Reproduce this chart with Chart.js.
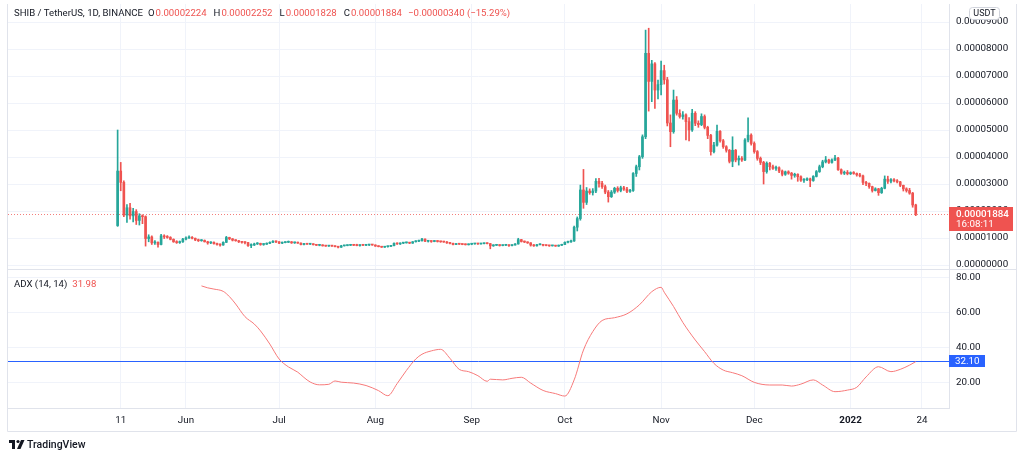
<!DOCTYPE html>
<html>
<head>
<meta charset="utf-8">
<script src="https://cdn.jsdelivr.net/npm/chart.js@4.4.1/dist/chart.umd.min.js"></script>
<style>
  html, body { margin: 0; padding: 0; background: #fff; }
  #wrap { position: relative; width: 1024px; height: 459px; }
  canvas { display: block; }
</style>
</head>
<body>
<div id="wrap"><canvas id="chart" width="1024" height="459"></canvas></div>
<script>
// SHIB/USDT daily candles, 10 May 2021 (day 0) .. 22 Jan 2022 (day 257)
// prices in millionths of a USDT (18.84 -> 0.00001884)
const firstOpen = 14.6;

const closes = [
  // May
  34.8, 30.6, 18.5, 21.2, 18.2, 19.8, 16.5, 18.2, 17.9, 9.8, 10.4, 8.2, 8.4, 7.6, 10.8, 10.4, 10.2, 9.5, 8.6, 8.3, 8.6, 9.6,
  // Jun
  10.0, 10.2, 9.9, 9.3, 9.0, 9.1, 8.6, 8.2, 8.4, 7.9, 7.6, 7.4, 8.4, 10.2, 9.7, 9.2, 9.0, 8.6, 8.4, 8.3, 7.2, 7.4, 7.8, 8.0, 7.6, 7.7, 8.0, 8.4, 8.7, 8.6,
  // Jul
  8.1, 8.3, 8.4, 8.6, 8.2, 8.3, 8.1, 7.6, 7.9, 7.7, 7.8, 7.5, 7.3, 7.4, 7.1, 7.0, 7.1, 7.0, 6.8, 6.6, 7.1, 7.2, 7.3, 7.4, 7.3, 7.2, 7.4, 7.3, 7.4, 7.5, 7.4,
  // Aug
  7.0, 6.8, 6.6, 6.8, 6.9, 7.2, 8.0, 7.8, 8.1, 8.2, 8.3, 8.1, 8.6, 8.8, 9.0, 9.6, 8.8, 8.9, 8.7, 8.9, 8.7, 8.6, 8.5, 8.2, 8.0, 7.6, 7.8, 7.7, 7.6, 7.5, 7.7,
  // Sep
  7.8, 7.9, 7.8, 7.9, 8.0, 7.9, 7.1, 7.3, 7.4, 7.2, 7.3, 7.4, 7.2, 7.4, 7.8, 9.4, 8.7, 8.5, 8.2, 7.4, 7.1, 7.5, 7.6, 7.3, 7.2, 7.1, 7.2, 7.0, 7.3, 7.6,
  // Oct
  8.4, 8.6, 8.9, 14.0, 17.2, 27.8, 23.2, 27.4, 26.8, 27.4, 31.0, 30.2, 29.0, 27.0, 25.3, 27.0, 28.4, 27.6, 28.6, 28.1, 27.3, 27.6, 33.9, 36.4, 40.1, 47.5, 78.4, 68.0, 74.5, 64.8, 66.8,
  // Nov
  72.0, 68.6, 52.6, 49.4, 61.1, 56.2, 55.0, 55.6, 53.1, 50.0, 56.2, 52.5, 52.0, 55.0, 51.0, 48.0, 42.0, 44.4, 49.5, 46.0, 43.8, 42.5, 38.4, 42.5, 38.9, 39.5, 38.9, 46.3, 48.1, 45.0,
  // Dec
  42.0, 39.5, 38.0, 34.6, 37.7, 36.4, 35.8, 36.0, 34.8, 33.6, 34.5, 34.0, 33.2, 33.6, 32.7, 31.4, 31.6, 31.9, 31.3, 32.8, 34.6, 36.4, 38.2, 38.9, 38.0, 38.9, 39.6, 35.3, 34.0, 34.3, 33.8,
  // Jan
  34.2, 33.9, 33.4, 33.0, 30.6, 30.2, 29.0, 27.6, 28.2, 26.8, 28.4, 31.8, 31.0, 31.6, 31.2, 30.8, 29.5, 28.2, 27.6, 26.6, 22.24, 18.84
];

const highs = [
  50.0, 38.0, 31.2, 22.4, 22.8, 21.0, 20.5, 19.0, 18.6, 18.2, 11.2, 10.8, 9.0, 8.6, 11.4, 11.2, 10.9, 10.5, 9.7, 9.0, 8.9, 9.9,
  10.4, 10.8, 10.5, 10.0, 9.6, 9.4, 9.3, 8.8, 8.6, 8.6, 8.1, 7.8, 8.6, 10.6, 10.3, 9.8, 9.4, 9.1, 8.8, 8.6, 8.4, 7.8, 8.1, 8.3, 8.1, 7.9, 8.2, 8.6, 9.0, 8.9,
  8.7, 8.5, 8.6, 8.9, 8.7, 8.5, 8.5, 8.2, 8.0, 8.0, 7.9, 7.9, 7.6, 7.5, 7.5, 7.3, 7.2, 7.3, 7.1, 6.9, 7.3, 7.3, 7.4, 7.5, 7.5, 7.7, 7.5, 7.5, 7.5, 7.6, 7.6,
  7.5, 7.1, 6.9, 6.9, 7.0, 7.3, 8.2, 8.2, 8.2, 8.4, 8.5, 8.4, 8.7, 9.0, 9.2, 9.9, 9.7, 9.1, 9.0, 9.1, 9.0, 8.8, 8.8, 8.7, 8.3, 8.1, 7.9, 7.9, 7.8, 7.8, 7.8,
  7.9, 8.0, 8.0, 8.0, 8.1, 8.2, 8.0, 7.5, 7.6, 7.5, 7.4, 7.5, 7.4, 7.5, 7.9, 9.9, 9.5, 8.9, 8.6, 8.3, 7.6, 7.7, 7.8, 7.7, 7.4, 7.3, 7.3, 7.3, 7.4, 7.7,
  8.6, 8.9, 9.2, 14.4, 17.8, 29.6, 35.4, 28.7, 28.2, 28.3, 32.0, 32.1, 31.0, 29.6, 27.6, 27.6, 28.8, 29.0, 29.2, 29.1, 28.8, 28.0, 34.2, 37.0, 40.6, 48.2, 87.0, 87.7, 75.8, 75.0, 68.5,
  75.5, 74.0, 69.5, 55.6, 64.8, 62.4, 57.5, 56.8, 56.0, 54.6, 57.7, 56.8, 53.4, 56.0, 55.6, 51.4, 48.4, 45.4, 51.8, 49.8, 46.5, 44.2, 42.8, 47.5, 42.8, 40.4, 40.2, 46.8, 54.5, 48.6,
  45.6, 42.4, 40.0, 38.4, 38.2, 38.0, 37.0, 36.6, 36.4, 35.2, 34.8, 34.9, 34.3, 34.0, 33.8, 33.0, 32.0, 32.3, 32.2, 33.1, 35.0, 37.0, 38.8, 40.2, 39.2, 39.3, 40.6, 39.9, 35.6, 34.8, 35.0,
  34.5, 34.6, 34.1, 34.0, 33.3, 31.0, 30.4, 29.2, 28.6, 28.4, 28.8, 33.0, 32.9, 32.0, 32.0, 31.6, 31.0, 29.6, 28.6, 28.4, 26.9, 22.52
];

const lows = [
  14.3, 27.5, 17.9, 15.8, 17.0, 16.0, 15.0, 14.8, 15.3, 7.0, 8.6, 7.6, 7.6, 6.6, 7.4, 9.8, 9.9, 9.3, 8.4, 8.0, 8.0, 8.4,
  9.3, 9.8, 9.7, 9.0, 8.7, 8.8, 8.5, 7.7, 7.9, 7.7, 7.3, 7.0, 7.3, 8.3, 9.4, 8.9, 8.8, 8.3, 8.1, 7.8, 6.9, 6.4, 7.2, 7.6, 7.3, 7.3, 7.6, 7.9, 8.3, 8.3,
  7.9, 7.9, 8.2, 8.3, 8.0, 8.0, 8.0, 7.4, 7.4, 7.6, 7.6, 7.4, 7.2, 7.1, 7.0, 6.9, 6.9, 6.9, 6.7, 6.3, 6.5, 7.0, 7.1, 7.2, 7.2, 7.1, 7.0, 7.2, 7.2, 7.2, 7.3,
  6.9, 6.7, 6.5, 6.5, 6.6, 6.8, 7.1, 7.6, 7.6, 7.9, 8.1, 7.9, 8.0, 8.5, 8.6, 8.8, 8.6, 8.5, 8.4, 8.6, 8.5, 8.4, 8.4, 8.0, 7.8, 7.4, 7.5, 7.6, 7.5, 7.4, 7.4,
  7.5, 7.7, 7.6, 7.7, 7.8, 7.8, 6.0, 6.9, 7.2, 7.0, 7.1, 7.2, 6.9, 7.1, 7.3, 7.7, 8.5, 8.3, 8.0, 7.0, 6.9, 7.0, 7.4, 7.1, 7.1, 6.9, 7.0, 6.9, 6.9, 7.2,
  7.5, 8.2, 8.4, 8.7, 12.6, 16.6, 21.0, 22.4, 26.2, 25.9, 26.8, 28.8, 28.4, 26.4, 23.3, 25.0, 26.5, 27.0, 27.1, 27.6, 26.8, 26.9, 27.3, 32.8, 35.2, 39.5, 46.8, 57.0, 60.5, 58.0, 61.5,
  63.0, 67.0, 51.5, 43.8, 48.8, 55.5, 54.4, 54.0, 46.3, 46.0, 49.5, 51.6, 51.0, 51.6, 50.4, 46.8, 40.7, 41.5, 44.0, 45.5, 43.2, 41.8, 37.8, 36.4, 38.2, 37.0, 38.4, 38.6, 45.6, 44.4,
  41.4, 38.8, 37.2, 30.0, 34.0, 35.2, 35.4, 35.0, 34.2, 33.0, 33.2, 33.6, 31.8, 32.5, 31.0, 31.0, 30.6, 31.2, 29.0, 31.0, 32.6, 34.3, 36.0, 37.8, 37.6, 37.7, 38.6, 35.0, 33.6, 33.5, 33.4,
  33.5, 33.6, 32.9, 32.6, 29.8, 29.4, 28.4, 27.0, 27.4, 25.8, 26.5, 28.2, 30.2, 30.4, 30.8, 30.4, 29.0, 27.4, 27.0, 26.2, 21.4, 18.28
];

// ADX (14, 14): day index and value
const adxDays = [27, 29, 31, 34, 36, 38, 41, 44, 46, 49, 52, 55, 58, 60, 62, 65, 68, 70, 72, 76, 80, 84, 87, 90, 93, 96, 98, 101, 104, 107, 110, 113, 116, 119, 120, 124, 127, 130, 133, 137, 141, 144, 147, 150, 153, 156, 160, 164, 168, 172, 175, 176, 179, 182, 186, 189, 192, 195, 198, 201, 205, 210, 214, 217, 220, 224, 227, 231, 235, 238, 241, 245, 249, 252, 255, 257];
const adxValues = [75.1, 74.0, 73.3, 72.0, 69.0, 64.8, 57.6, 53.4, 49.5, 42.0, 33.5, 29.0, 26.0, 23.0, 20.4, 18.8, 19.1, 21.0, 20.3, 19.8, 18.4, 15.5, 12.6, 19.5, 27.0, 33.5, 36.2, 38.1, 39.0, 33.9, 27.6, 26.3, 24.0, 20.8, 22.0, 21.6, 22.5, 23.1, 19.8, 15.6, 13.8, 12.4, 21.6, 38.6, 49.1, 55.4, 57.0, 59.2, 64.3, 71.8, 74.3, 71.5, 63.4, 54.3, 44.3, 37.7, 31.0, 27.2, 25.7, 24.0, 20.2, 18.7, 18.7, 18.1, 19.2, 21.6, 18.7, 14.9, 15.8, 17.4, 23.3, 29.1, 26.3, 27.6, 30.0, 31.98];
const adxLevel = 32.10;

// time axis
const tickDays = [1, 22, 52, 83, 114, 144, 175, 205, 236, 259];
const tickLabels = ['11', 'Jun', 'Jul', 'Aug', 'Sep', 'Oct', 'Nov', 'Dec', '2022', '24'];
const priceTicks = [0, 10, 20, 30, 40, 50, 60, 70, 80, 90];
const adxTicks = [20, 40, 60, 80];

const UP = '#26a69a';
const DOWN = '#ef5350';
const TEXT = '#131722';
const GRID = '#f0f3fa';
const LINE = '#e0e3eb';
const FONT = 'Roboto, "Liberation Sans", sans-serif';

const opens = closes.map((c, i) => (i === 0 ? firstOpen : closes[i - 1]));
const candleColors = closes.map((c, i) => (c >= opens[i] ? UP : DOWN));
const fmtPrice = v => (v / 1e6).toFixed(8);

const last = closes.length - 1;
const lastOpen = opens[last], lastClose = closes[last];
const change = lastClose - lastOpen;
const changeText = (change < 0 ? '\u2212' : '+') + fmtPrice(Math.abs(change)) +
  ' (' + (change < 0 ? '\u2212' : '+') + Math.abs(change / lastOpen * 100).toFixed(2) + '%)';

// overlays drawn by hand: legend lines, price tags, pane separator, frame, logo
const overlay = {
  id: 'overlay',
  beforeDatasetsDraw(chart) {
    const { ctx, chartArea: a, scales } = chart;
    ctx.save();
    // last price dotted line
    const py = Math.round(scales.y.getPixelForValue(lastClose)) + 0.5;
    ctx.strokeStyle = 'rgba(239,83,80,0.75)';
    ctx.lineWidth = 1;
    ctx.setLineDash([1, 2]);
    ctx.beginPath(); ctx.moveTo(a.left, py); ctx.lineTo(a.right, py); ctx.stroke();
    // horizontal level on the ADX pane
    const ly = Math.round(scales.yAdx.getPixelForValue(adxLevel)) + 0.5;
    ctx.setLineDash([]);
    ctx.strokeStyle = '#2962ff';
    ctx.beginPath(); ctx.moveTo(a.left, ly); ctx.lineTo(a.right, ly); ctx.stroke();
    ctx.restore();
  },
  afterDraw(chart) {
    const { ctx, chartArea: a, scales } = chart;
    const axisRight = a.right + scales.y.width;
    ctx.save();

    // pane separator + frame
    const sepY = Math.round(scales.y.bottom) + 0.5;
    ctx.strokeStyle = LINE;
    ctx.lineWidth = 1;
    ctx.beginPath();
    ctx.moveTo(a.left - 0.5, sepY); ctx.lineTo(axisRight, sepY);
    ctx.moveTo(a.left - 0.5, a.top); ctx.lineTo(a.left - 0.5, scales.x.bottom + 0.5);
    ctx.moveTo(a.left - 0.5, scales.x.bottom + 0.5); ctx.lineTo(axisRight + 0.5, scales.x.bottom + 0.5);
    ctx.moveTo(axisRight + 0.5, a.top); ctx.lineTo(axisRight + 0.5, scales.x.bottom + 0.5);
    ctx.stroke();

    // top legend
    ctx.textBaseline = 'middle';
    ctx.font = '9.6px ' + FONT;
    let x = 14;
    const ty = 13.5;
    const put = (txt, color, gap) => {
      ctx.fillStyle = color;
      ctx.fillText(txt, x, ty);
      x += ctx.measureText(txt).width + gap;
    };
    put('SHIB / TetherUS, 1D, BINANCE', TEXT, 5);
    put('O', TEXT, 1); put(fmtPrice(lastOpen), DOWN, 7);
    put('H', TEXT, 1); put(fmtPrice(highs[last]), DOWN, 7);
    put('L', TEXT, 1); put(fmtPrice(lows[last]), DOWN, 7);
    put('C', TEXT, 1); put(fmtPrice(lastClose), DOWN, 6);
    put(changeText, DOWN, 0);

    // ADX legend
    x = 14;
    const ay = scales.yAdx.top + 15.5;
    ctx.fillStyle = TEXT;
    ctx.fillText('ADX (14, 14)', x, ay);
    x += ctx.measureText('ADX (14, 14)').width + 5;
    ctx.fillStyle = DOWN;
    ctx.fillText(adxValues[adxValues.length - 1].toFixed(2), x, ay);

    // USDT tag
    const ux = a.right + 20, uy = 7;
    ctx.fillStyle = '#fff';
    ctx.strokeStyle = '#d1d4dc';
    ctx.beginPath();
    ctx.roundRect(ux + 0.5, uy + 0.5, 30, 12, 3);
    ctx.fill(); ctx.stroke();
    ctx.fillStyle = TEXT;
    ctx.font = '9px ' + FONT;
    ctx.textAlign = 'center';
    ctx.fillText('USDT', ux + 15.5, uy + 7);

    // last price tag
    const py = scales.y.getPixelForValue(lastClose);
    ctx.fillStyle = DOWN;
    ctx.fillRect(a.right, Math.round(py) - 7, 64, 24);
    ctx.fillStyle = '#fff';
    ctx.textAlign = 'left';
    ctx.font = '500 9.8px ' + FONT;
    ctx.fillText(fmtPrice(lastClose), a.right + 7, py);
    ctx.font = '9.8px ' + FONT;
    ctx.fillText('16:08:11', a.right + 7, py + 10);

    // ADX level tag
    const ly = scales.yAdx.getPixelForValue(adxLevel);
    ctx.fillStyle = '#2962ff';
    ctx.fillRect(a.right, Math.round(ly) - 6, 36, 12);
    ctx.fillStyle = '#fff';
    ctx.fillText(adxLevel.toFixed(2), a.right + 6, ly + 0.5);

    // TradingView mark
    const bx = 9, by = 440;
    ctx.fillStyle = TEXT;
    ctx.fillRect(bx, by, 6, 3);
    ctx.fillRect(bx + 3, by, 3, 9);
    ctx.beginPath(); ctx.arc(bx + 9, by + 1.5, 1.6, 0, Math.PI * 2); ctx.fill();
    ctx.beginPath();
    ctx.moveTo(bx + 12, by); ctx.lineTo(bx + 15.5, by);
    ctx.lineTo(bx + 11.5, by + 9); ctx.lineTo(bx + 8, by + 9);
    ctx.closePath(); ctx.fill();
    ctx.font = '500 10.5px ' + FONT;
    ctx.fillText('TradingView', bx + 18, by + 5);
    ctx.restore();
  }
};

const tickFont = { family: FONT, size: 9.8 };
const noEdgePad = s => { s.paddingTop = 0; s.paddingBottom = 0; s.width = 67; };

new Chart(document.getElementById('chart'), {
  type: 'bar',
  data: {
    datasets: [
      {
        label: 'wick',
        data: closes.map((c, i) => ({ x: i, y: [lows[i], highs[i]] })),
        backgroundColor: candleColors,
        barThickness: 1,
        grouped: false,
        yAxisID: 'y',
        order: 2
      },
      {
        label: 'body',
        data: closes.map((c, i) => ({ x: i, y: [opens[i], c] })),
        backgroundColor: candleColors,
        barThickness: 2,
        minBarLength: 1,
        grouped: false,
        yAxisID: 'y',
        order: 1
      },
      {
        type: 'line',
        label: 'ADX',
        data: adxDays.map((d, i) => ({ x: d, y: adxValues[i] })),
        borderColor: '#f77a7a',
        borderWidth: 1,
        pointRadius: 0,
        cubicInterpolationMode: 'monotone',
        yAxisID: 'yAdx',
        order: 0
      }
    ]
  },
  options: {
    responsive: false,
    animation: false,
    events: [],
    layout: { padding: { left: 8, top: 4, right: 8, bottom: 28 } },
    plugins: { legend: { display: false }, tooltip: { enabled: false } },
    scales: {
      x: {
        type: 'linear',
        min: -35.3,
        max: 267.7,
        offset: false,
        grid: { color: GRID, offset: false, drawTicks: false },
        border: { color: LINE },
        afterBuildTicks: s => { s.ticks = tickDays.map(v => ({ value: v })); },
        afterFit: s => { s.height = 23; s.paddingLeft = 0; s.paddingRight = 0; },
        ticks: {
          autoSkip: false,
          maxRotation: 0,
          padding: 7,
          color: TEXT,
          font: ctx => ({ family: FONT, size: 9.8, weight: tickLabels[ctx.index] === '2022' ? 'bold' : 'normal' }),
          callback: (v, i) => tickLabels[i]
        }
      },
      y: {
        type: 'linear',
        position: 'right',
        stack: 'panes',
        stackWeight: 265,
        min: -1.48,
        max: 96.67,
        beginAtZero: false,
        grid: { color: GRID, drawTicks: false },
        border: { color: LINE },
        afterBuildTicks: s => { s.ticks = priceTicks.map(v => ({ value: v })); },
        afterFit: noEdgePad,
        ticks: { autoSkip: false, padding: 7, color: TEXT, font: tickFont, callback: v => fmtPrice(v) }
      },
      yAdx: {
        type: 'linear',
        position: 'right',
        stack: 'panes',
        stackWeight: 139,
        min: 5.61,
        max: 84.72,
        beginAtZero: false,
        grid: { color: GRID, drawTicks: false },
        border: { color: LINE },
        afterBuildTicks: s => { s.ticks = adxTicks.map(v => ({ value: v })); },
        afterFit: noEdgePad,
        ticks: { autoSkip: false, padding: 7, color: TEXT, font: tickFont, callback: v => v.toFixed(2) }
      }
    }
  },
  plugins: [overlay]
});
</script>
</body>
</html>
